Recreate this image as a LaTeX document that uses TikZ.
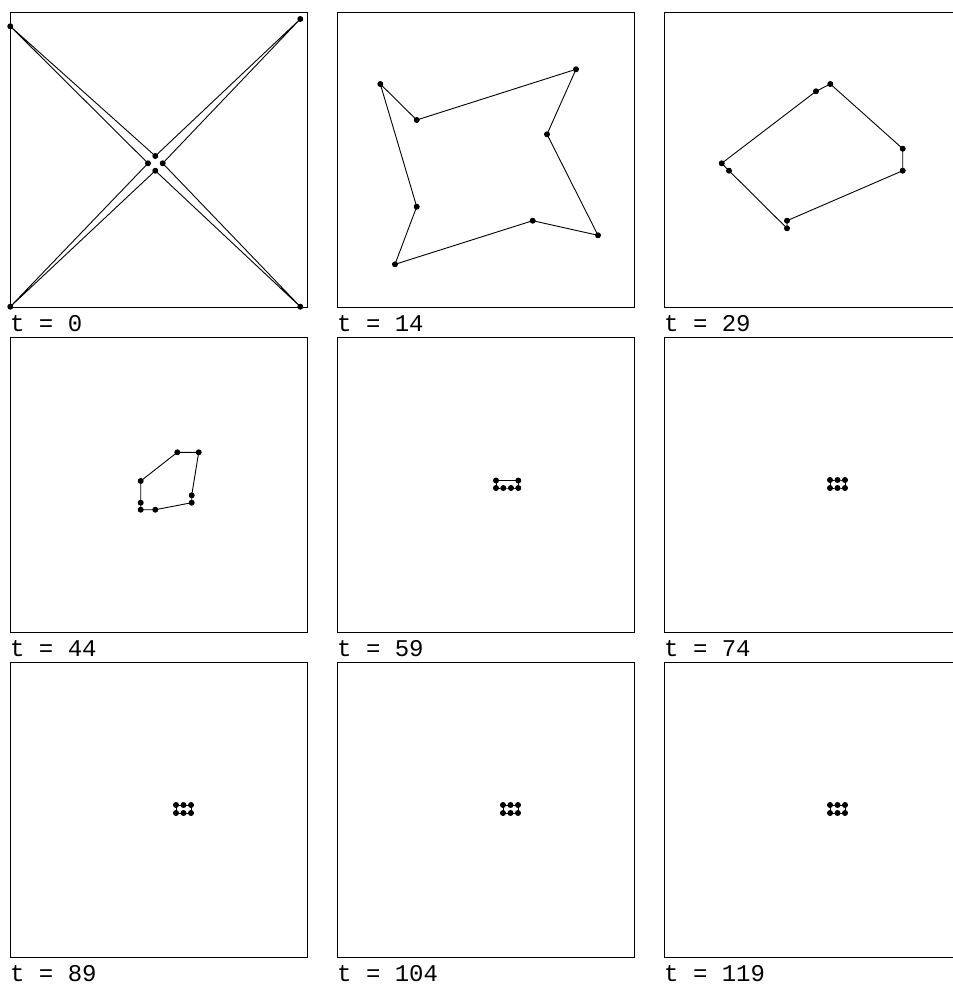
\documentclass[tikz,border=0pt]{standalone}
\usepackage{fontspec}
\newfontfamily\stampfont{Liberation Mono}
\tikzset{
  simbox/.style={
    draw=black,
    line width=1pt
  },
  outline/.style={
    line width=0.9pt,
    line join=round
  },
  stamp/.style={
    anchor=base west,
    inner sep=0pt,
    font=\stampfont\fontsize{24}{28}\selectfont
  }
}
% one frame of the run: #1,#2 top left corner, #3 time step, #4 vertices
\newcommand{\simpanel}[4]{%
  \begin{scope}[shift={(#1,#2)}]
    \draw[simbox] (0,0) rectangle (297,295);
    \draw[outline]
      plot[mark=*, mark size=2.5pt] coordinates {#4} -- cycle;
    \node[stamp] (t#3) at (0,319) {t = #3};
  \end{scope}}

\begin{document}
\begin{tikzpicture}[x=1pt,y=-1pt]

  \clip (0,0) rectangle (953,986);

  % first row
  \simpanel{10}{12}{0}{(0.3,14.3) (145.3,144) (290.3,7) (152.7,151.3)
    (290.3,294.7) (145.3,158.7) (0.3,294.7) (138,151.3)}
  \simpanel{337}{12}{14}{(43.3,72) (79.7,108) (239,57.3) (210,122.3)
    (261,223.3) (195.7,208.7) (58,252.3) (79.7,194.7)}
  \simpanel{664}{12}{29}{(57.7,151.3) (152,79.3) (166.3,72) (238.7,136.7)
    (238.7,158.7) (123,208.7) (123,216.3) (65,158.7)}

  % second row
  \simpanel{10}{337}{44}{(167.3,115.3) (188.7,115.3) (181.7,158.3)
    (181.7,165.7) (145.3,172.7) (130.7,172.7) (130.7,165.7) (130.7,144)}
  \simpanel{337}{337}{59}{(159,143.5) (181.3,143.5) (181.3,151)
    (174,151) (166.3,151) (159,151)}
  \simpanel{664}{337}{74}{(166,143) (173.5,143) (181,143)
    (181,151) (173.5,151) (166,151)}

  % third row
  \simpanel{10}{662}{89}{(166,143) (173.5,143) (181,143)
    (181,151) (173.5,151) (166,151)}
  \simpanel{337}{662}{104}{(166,143) (173.5,143) (181,143)
    (181,151) (173.5,151) (166,151)}
  \simpanel{664}{662}{119}{(166,143) (173.5,143) (181,143)
    (181,151) (173.5,151) (166,151)}

\end{tikzpicture}
\end{document}
